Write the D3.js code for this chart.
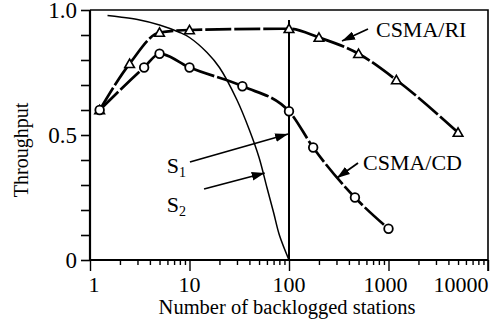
<!DOCTYPE html>
<html>
<head>
<meta charset="utf-8">
<script src="https://cdnjs.cloudflare.com/ajax/libs/d3/7.8.5/d3.min.js"></script>
<style>
body { margin: 0; background: #fff; }
text { font-family: "Liberation Serif", "Times New Roman", serif; fill: #000; }
</style>
</head>
<body>
<script>
// CSMA/RI (triangles)
var stationsRI = [1.25, 2.5, 5, 10, 100, 200, 500, 1200, 5000];
var throughputRI = [0.60, 0.785, 0.91, 0.92, 0.925, 0.89, 0.825, 0.72, 0.51];
// CSMA/CD (circles)
var stationsCD = [1.25, 3.5, 5, 10, 34, 100, 175, 460, 1000];
var throughputCD = [0.60, 0.77, 0.825, 0.77, 0.695, 0.595, 0.45, 0.25, 0.125];
// S2 bound curve
var stationsS2 = [1.5, 2, 3, 5, 8, 10, 15, 20, 30, 40, 50, 60, 70, 80, 100];
var throughputS2 = [0.978, 0.972, 0.962, 0.94, 0.91, 0.89, 0.83, 0.77, 0.64, 0.52, 0.41, 0.29, 0.19, 0.10, 0];
// S1 bound (vertical at 100 stations)
var stationsS1 = [100, 100];
var throughputS1 = [0.96, 0];

var xTickLabels = ["1", "10", "100", "1000", "10000"];
var yTickLabels = ["0", "0.5", "1.0"];

// labels and arrows, in data coordinates
var labels = [
	{ text: "CSMA/RI", sub: "", n: 748, t: 0.892 },
	{ text: "CSMA/CD", sub: "", n: 554, t: 0.36 },
	{ text: "S", sub: "1", n: 5.9, t: 0.348 },
	{ text: "S", sub: "2", n: 5.9, t: 0.192 }
];
var arrows = [
	{ n0: 622, t0: 0.924, n1: 341, t1: 0.876 },
	{ n0: 494, t0: 0.388, n1: 303, t1: 0.328 },
	{ n0: 10.1, t0: 0.392, n1: 98, t1: 0.504 },
	{ n0: 14, t0: 0.284, n1: 57, t1: 0.348 }
];

var width = 493, height = 321;
var mLeft = 90, mRight = 488, mTop = 10, mBottom = 260;

var svg = d3.select("body").append("svg")
	.attr("width", width)
	.attr("height", height);

var x = d3.scaleLog().domain([1, 10000]).range([mLeft, mRight]);
var y = d3.scaleLinear().domain([0, 1]).range([mBottom, mTop]);

svg.append("defs").append("marker")
	.attr("id", "head")
	.attr("markerUnits", "userSpaceOnUse")
	.attr("viewBox", "0 0 12 8")
	.attr("refX", 12).attr("refY", 4)
	.attr("markerWidth", 13).attr("markerHeight", 9)
	.attr("orient", "auto")
	.append("path").attr("d", "M0,0 L12,4 L0,8 Z").attr("fill", "#000");

// frame (top and right)
svg.append("path")
	.attr("d", "M" + mLeft + "," + mTop + "H" + mRight + "V" + (mBottom + 11))
	.attr("fill", "none").attr("stroke", "#000").attr("stroke-width", 1.6);

// y axis
var yTicks = d3.range(0, 11).map(function(i) { return i / 10; });
var yAxis = svg.append("g")
	.attr("transform", "translate(" + mLeft + ",0)")
	.call(d3.axisLeft(y).tickValues(yTicks).tickSize(9).tickPadding(4)
		.tickFormat(function(d, i) {
			if (i == 0) return yTickLabels[0];
			if (i == 5) return yTickLabels[1];
			if (i == 10) return yTickLabels[2];
			return "";
		}));
yAxis.select(".domain").attr("stroke-width", 2.2).attr("d", "M0," + mTop + "V" + mBottom);
yAxis.selectAll(".tick line").attr("stroke-width", 1.6);
yAxis.selectAll("text").attr("font-size", 23).attr("font-family", "Liberation Serif").attr("dy", "0.34em");

// x axis
var xTicks = [];
for (var dec = 1; dec < 10000; dec *= 10) {
	for (var k = 1; k < 10; k++) xTicks.push(dec * k);
}
xTicks.push(10000);
var xAxis = svg.append("g")
	.attr("transform", "translate(0," + mBottom + ")")
	.call(d3.axisBottom(x).tickValues(xTicks).tickSize(5).tickFormat(""));
xAxis.select(".domain").attr("stroke-width", 2.2).attr("d", "M" + mLeft + ",0H" + mRight);
xAxis.selectAll(".tick line")
	.attr("stroke-width", 1.4)
	.attr("y2", function(d) { return Math.abs(Math.log10(d) % 1) < 1e-9 ? 11 : 5; });

var decades = [1, 10, 100, 1000, 10000];
svg.selectAll(".xlab").data(decades).enter().append("text")
	.attr("class", "xlab")
	.attr("x", function(d) { return x(d); })
	.attr("dx", function(d, i) { return i == 0 ? 4 : (i == 4 ? -27 : (i == 3 ? -3 : 0)); })
	.attr("y", 292)
	.attr("text-anchor", "middle")
	.attr("font-size", 22)
	.text(function(d, i) { return xTickLabels[i]; });

// axis titles
svg.append("text")
	.attr("x", (mLeft + mRight) / 2 - 2)
	.attr("y", 314)
	.attr("text-anchor", "middle")
	.attr("font-size", 20.5)
	.text("Number of backlogged stations");
svg.append("text")
	.attr("transform", "translate(28,150) rotate(-90)")
	.attr("text-anchor", "middle")
	.attr("font-size", 20)
	.text("Throughput");

function zip(ns, ts) { return ns.map(function(n, i) { return [n, ts[i]]; }); }

var smooth = d3.line()
	.x(function(d) { return x(d[0]); })
	.y(function(d) { return y(d[1]); })
	.curve(d3.curveMonotoneX);
var catmull = d3.line()
	.x(function(d) { return x(d[0]); })
	.y(function(d) { return y(d[1]); })
	.curve(d3.curveCatmullRom);
var straight = d3.line()
	.x(function(d) { return x(d[0]); })
	.y(function(d) { return y(d[1]); });

// S2 and S1
svg.append("path").datum(zip(stationsS2, throughputS2))
	.attr("d", catmull)
	.attr("fill", "none").attr("stroke", "#000").attr("stroke-width", 1.5);
svg.append("path").datum(zip(stationsS1, throughputS1))
	.attr("d", straight)
	.attr("fill", "none").attr("stroke", "#000").attr("stroke-width", 2);

// protocol curves
svg.append("path").datum(zip(stationsRI, throughputRI))
	.attr("d", smooth)
	.attr("fill", "none").attr("stroke", "#000").attr("stroke-width", 2.7)
	.attr("stroke-dasharray", "26,3");
svg.append("path").datum(zip(stationsCD, throughputCD))
	.attr("d", smooth)
	.attr("fill", "none").attr("stroke", "#000").attr("stroke-width", 2.7)
	.attr("stroke-dasharray", "26,3");

var tri = d3.symbol().type(d3.symbolTriangle).size(40);
svg.selectAll(".ri").data(zip(stationsRI, throughputRI)).enter().append("path")
	.attr("class", "ri")
	.attr("transform", function(d) { return "translate(" + x(d[0]) + "," + (y(d[1]) + 1) + ")"; })
	.attr("d", tri)
	.attr("fill", "#fff").attr("stroke", "#000").attr("stroke-width", 1.6);

svg.selectAll(".cd").data(zip(stationsCD, throughputCD)).enter().append("circle")
	.attr("class", "cd")
	.attr("cx", function(d) { return x(d[0]); })
	.attr("cy", function(d) { return y(d[1]); })
	.attr("r", 4.3)
	.attr("fill", "#fff").attr("stroke", "#000").attr("stroke-width", 1.8);

// arrows
svg.selectAll(".arrow").data(arrows).enter().append("line")
	.attr("class", "arrow")
	.attr("x1", function(d) { return x(d.n0); })
	.attr("y1", function(d) { return y(d.t0); })
	.attr("x2", function(d) { return x(d.n1); })
	.attr("y2", function(d) { return y(d.t1); })
	.attr("stroke", "#000").attr("stroke-width", 1.8)
	.attr("marker-end", "url(#head)");

// labels
var lab = svg.selectAll(".lab").data(labels).enter().append("text")
	.attr("class", "lab")
	.attr("x", function(d) { return x(d.n); })
	.attr("y", function(d) { return y(d.t); })
	.attr("font-size", 22);
lab.append("tspan").text(function(d) { return d.text; });
lab.append("tspan")
	.attr("font-size", 14)
	.attr("dy", 4)
	.text(function(d) { return d.sub; });
</script>
</body>
</html>
